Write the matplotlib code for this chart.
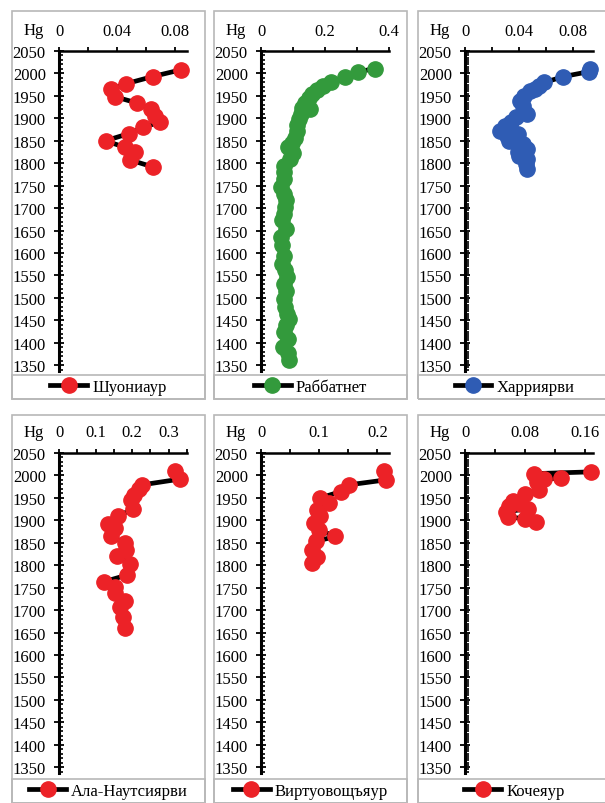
import numpy as np
import matplotlib
matplotlib.use('Agg')
from matplotlib import pyplot as plt
from matplotlib.patches import Rectangle
from matplotlib.lines import Line2D
from matplotlib.ticker import MultipleLocator, FuncFormatter

plt.rcParams['font.family'] = ['Liberation Serif', 'DejaVu Serif']

# Шуониаур
shu_hg = [0.0837, 0.0643, 0.046, 0.0356, 0.0386, 0.0538, 0.063, 0.066, 0.0697,
          0.058, 0.048, 0.032, 0.0456, 0.052, 0.049, 0.0643]
shu_yr = [2008, 1993, 1977, 1965, 1948, 1934, 1920, 1905, 1892,
          1880, 1866, 1850, 1835, 1825, 1807, 1792]

# Раббатнет
rab_hg = [0.355, 0.302, 0.262, 0.219, 0.194, 0.174, 0.159, 0.149, 0.139, 0.129,
          0.154, 0.124, 0.119, 0.114, 0.112, 0.106, 0.098, 0.085, 0.101, 0.091,
          0.073, 0.071, 0.073, 0.061, 0.071, 0.078, 0.075, 0.073, 0.065, 0.078,
          0.063, 0.065, 0.073, 0.065, 0.075, 0.081, 0.071, 0.078, 0.071, 0.075,
          0.081, 0.088, 0.078, 0.073, 0.083, 0.068, 0.083, 0.088]
rab_yr = [2011, 2003, 1991, 1980, 1971, 1963, 1954, 1945, 1935, 1924,
          1920, 1909, 1898, 1885, 1872, 1857, 1846, 1837, 1822, 1809,
          1794, 1780, 1765, 1746, 1731, 1717, 1702, 1687, 1673, 1654,
          1635, 1617, 1594, 1576, 1561, 1546, 1531, 1516, 1498, 1479,
          1465, 1453, 1439, 1424, 1409, 1391, 1376, 1361]

# Харриярви
har_hg = [0.093, 0.092, 0.073, 0.059, 0.055, 0.052, 0.048, 0.044, 0.041, 0.043,
          0.046, 0.038, 0.034, 0.030, 0.026, 0.039, 0.031, 0.033, 0.043, 0.046,
          0.039, 0.040, 0.046, 0.045, 0.046]
har_yr = [2011, 2004, 1993, 1980, 1972, 1966, 1960, 1950, 1939, 1928,
          1909, 1902, 1891, 1883, 1872, 1865, 1861, 1850, 1843, 1831,
          1824, 1817, 1809, 1798, 1787]

# Ала-Наутсиярви
ala_hg = [0.316, 0.332, 0.227, 0.218, 0.204, 0.197, 0.201, 0.161, 0.133, 0.152,
          0.143, 0.181, 0.183, 0.158, 0.195, 0.186, 0.122, 0.154, 0.152, 0.181,
          0.167, 0.174, 0.181]
ala_yr = [2009, 1992, 1979, 1970, 1957, 1946, 1925, 1909, 1892, 1882,
          1864, 1849, 1834, 1821, 1803, 1778, 1763, 1751, 1737, 1721,
          1707, 1685, 1661]

# Виртуовощъяур
vir_hg = [0.2115, 0.214, 0.151, 0.137, 0.102, 0.117, 0.097, 0.102, 0.091, 0.099,
          0.128, 0.094, 0.088, 0.097, 0.088]
vir_yr = [2009, 1990, 1979, 1964, 1950, 1938, 1923, 1909, 1894, 1879,
          1864, 1853, 1834, 1819, 1804]

# Кочеяур
koc_hg = [0.168, 0.092, 0.128, 0.105, 0.095, 0.098, 0.080, 0.064, 0.075, 0.058,
          0.084, 0.055, 0.057, 0.080, 0.094]
koc_yr = [2008, 2004, 1995, 1991, 1985, 1967, 1959, 1944, 1937, 1933,
          1926, 1919, 1907, 1904, 1896]

names = ['Шуониаур', 'Раббатнет', 'Харриярви',
         'Ала-Наутсиярви', 'Виртуовощъяур', 'Кочеяур']
series = [(shu_hg, shu_yr), (rab_hg, rab_yr), (har_hg, har_yr),
          (ala_hg, ala_yr), (vir_hg, vir_yr), (koc_hg, koc_yr)]
colors = ['#ec2227', '#339a3c', '#2f5cb4', '#ec2227', '#ec2227', '#ec2227']
xmax = [0.088, 0.4, 0.095, 0.35, 0.22, 0.17]
xmajor = [0.04, 0.2, 0.04, 0.1, 0.1, 0.08]
xminor = [0.02, 0.1, 0.02, 0.05, 0.05, 0.04]
yminor = [10, 10, 5, 10, 10, 5]

W, H = 605, 804
fig = plt.figure(figsize=(W / 100, H / 100), dpi=100, facecolor='w')

box_left = [12, 214, 418]
box_top = [12, 416]
axis_top = [52, 454]
box_w, box_h = 193, 388
fs = 12


def fr(x, y):
    return x / W, 1 - y / H


for i in range(6):
    row, col = i // 3, i % 3
    bl, bt = box_left[col], box_top[row]

    # рамка панели и рамка легенды
    x0, y0 = fr(bl, bt + box_h)
    fig.patches.append(Rectangle((x0, y0), box_w / W, box_h / H, transform=fig.transFigure,
                                 fill=False, edgecolor='#b8b8b8', lw=1.2))
    fig.patches.append(Rectangle((x0, y0), box_w / W, 24 / H, transform=fig.transFigure,
                                 fill=False, edgecolor='#b8b8b8', lw=1.2))

    al = bl + 47
    at = axis_top[row]
    ax = fig.add_axes([al / W, 1 - (at + 320) / H, 128 / W, 320 / H])
    hg, yr = series[i]
    ax.plot(hg, yr, color='black', lw=3.4, marker='o', markersize=11,
            markerfacecolor=colors[i], markeredgecolor=colors[i], clip_on=False, zorder=3)

    ax.set_xlim(0, xmax[i])
    ax.set_ylim(1337, 2050)
    for s in ['right', 'bottom']:
        ax.spines[s].set_visible(False)
    ax.spines['left'].set_linewidth(2.2)
    ax.spines['top'].set_linewidth(1.8)
    ax.xaxis.set_ticks_position('top')
    ax.xaxis.set_major_locator(MultipleLocator(xmajor[i]))
    ax.xaxis.set_minor_locator(MultipleLocator(xminor[i]))
    ax.xaxis.set_major_formatter(FuncFormatter(lambda v, p: '%g' % round(v, 3)))
    ax.yaxis.set_major_locator(MultipleLocator(50))
    ax.yaxis.set_minor_locator(MultipleLocator(yminor[i]))
    ax.tick_params(axis='x', which='both', direction='out', length=3, width=1.3,
                   pad=6, labelsize=fs)
    ax.tick_params(axis='y', which='major', direction='inout', length=7, width=1.3,
                   pad=6, labelsize=fs)
    ax.tick_params(axis='y', which='minor', direction='in', length=3, width=1.2)
    ax.text(-0.2, 1.04, 'Hg', transform=ax.transAxes, fontsize=fs,
            ha='center', va='bottom')

    h = Line2D([], [], color='black', lw=3.4, marker='o', markersize=11,
               markerfacecolor=colors[i], markeredgecolor=colors[i])
    lx, ly = fr(bl + box_w / 2, bt + box_h - 12)
    fig.legend([h], [names[i]], loc='center', bbox_to_anchor=(lx, ly),
               bbox_transform=fig.transFigure, frameon=False, fontsize=fs,
               handlelength=2.2, handletextpad=0.3, numpoints=1,
               borderpad=0, borderaxespad=0)

fig.savefig('out.png', dpi=100)
